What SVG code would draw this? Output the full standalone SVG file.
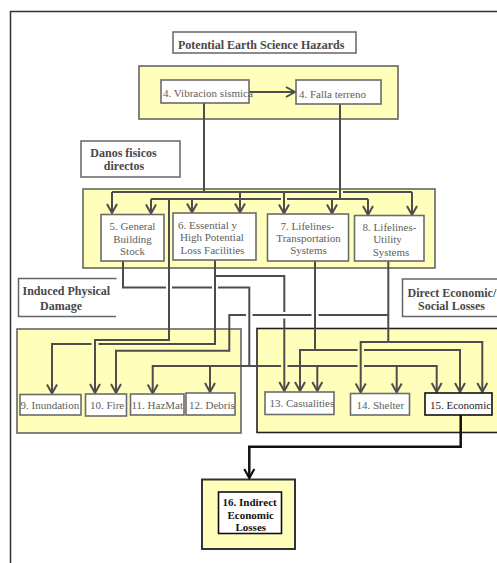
<svg xmlns="http://www.w3.org/2000/svg" width="497" height="563" viewBox="0 0 497 563">
<defs>
<style>
.box{fill:#fff;stroke:#6b6b6b;stroke-width:1.6}
.kbox{fill:#fff;stroke:#111;stroke-width:1.6}
.ybox{fill:#ffffbb;stroke:#666;stroke-width:1.6}
.lbl{fill:#fff;stroke:#666;stroke-width:1.5}
.t{font-family:"Liberation Serif",serif;font-size:11px;fill:#5e5e5e}
.tc{font-family:"Liberation Serif",serif;font-size:11px;fill:#5e5e5e;text-anchor:middle}
.b{font-family:"Liberation Serif",serif;font-size:12px;font-weight:bold;fill:#484848}
.bc{font-family:"Liberation Serif",serif;font-size:12px;font-weight:bold;fill:#484848;text-anchor:middle}
.c{fill:none;stroke:#4d4d4d;stroke-width:2}
.ca{fill:none;stroke:#4d4d4d;stroke-width:2;marker-end:url(#ah)}
.k{fill:none;stroke:#111;stroke-width:2.5;marker-end:url(#ahk)}
</style>
<marker id="ah" viewBox="-11 -7 13 14" refX="0" refY="0" markerWidth="13" markerHeight="14" markerUnits="userSpaceOnUse" orient="auto">
<path d="M-9,-5 L0,0 L-9,5" fill="none" stroke="#4d4d4d" stroke-width="2"/>
</marker>
<marker id="ahk" viewBox="-11 -7 13 14" refX="0" refY="0" markerWidth="13" markerHeight="14" markerUnits="userSpaceOnUse" orient="auto">
<path d="M-9,-5 L0,0 L-9,5" fill="none" stroke="#111" stroke-width="2.2"/>
</marker>
</defs>
<rect width="497" height="563" fill="#fff"/>
<rect x="10.5" y="11.5" width="495" height="560" fill="none" stroke="#333" stroke-width="1.5"/>

<g id="title">
<rect class="lbl" x="173" y="32" width="183" height="21"/>
<text class="b" x="178" y="48.5">Potential Earth Science Hazards</text>
</g>

<g id="hazards-group"><rect class="ybox" x="139" y="66" width="259" height="53"/></g>
<g id="direct-group"><rect class="ybox" x="83" y="189" width="352" height="79"/></g>
<g id="induced-group"><rect class="ybox" x="17" y="329" width="224" height="104"/></g>
<g id="losses-group"><rect class="ybox" x="257" y="328.5" width="250" height="104" style="stroke:#222"/></g>
<g id="indirect-group"><rect class="ybox" x="202" y="479.5" width="93" height="69.5" style="stroke:#333;stroke-width:2"/></g>

<g id="label-danos">
<rect class="lbl" x="81" y="141" width="99" height="36"/>
<text class="bc" x="123.5" y="156.5">Danos fisicos</text>
<text class="bc" x="124" y="169.5">directos</text>
</g>
<g id="label-induced">
<path d="M116.5,278.5 H18.5 V316.5 H116" fill="none" stroke="#666" stroke-width="1.5"/>
<text class="b" x="22.5" y="295">Induced Physical</text>
<text class="bc" x="61" y="310">Damage</text>
</g>
<g id="label-direct">
<rect class="lbl" x="402.5" y="279" width="100" height="37.5"/>
<text class="b" x="407.5" y="297">Direct Economic/</text>
<text class="b" x="418" y="309.5">Social Losses</text>
</g>

<g id="connectors">
<path class="ca" d="M249,92 H295"/>
<path class="c" d="M204,103 V192"/>
<path class="c" d="M337,192 H112"/>
<path class="ca" d="M112,192 V213"/>
<path class="c" d="M343,192 H412"/>
<path class="ca" d="M412,192 V215"/>
<path class="ca" d="M240,192 V212.5"/>
<path class="ca" d="M284,192 V213.5"/>
<path class="c" d="M340,104 V199"/>
<path class="c" d="M281,199 H151"/>
<path class="ca" d="M151,199 V213.5"/>
<path class="ca" d="M192,199 V212.5"/>
<path class="c" d="M287,199 H368"/>
<path class="ca" d="M368,199 V215"/>
<path class="ca" d="M332,199 V213.5"/>
<path class="ca" d="M169,199 V340 H95 V393"/>

<path class="c" d="M123,261 V287.5 H166"/>
<path class="c" d="M172,287.5 H212"/>
<path class="c" d="M218,287.5 H249.3 V366 H281"/>
<path class="c" d="M287.5,366 H357.5"/>
<path class="ca" d="M364,366 H436.7 V392"/>
<path class="ca" d="M249.3,366 H152.7 V393.5"/>
<path class="ca" d="M210,366 V392"/>
<path class="ca" d="M317.3,366 V391"/>
<path class="ca" d="M396.7,366 V392.5"/>

<path class="c" d="M215,260 V344 H98.5"/>
<path class="ca" d="M91.5,344 H52 V393.5"/>
<path class="c" d="M215,276 H284.3 V312"/>
<path class="ca" d="M284.3,318.5 V391"/>

<path class="c" d="M315,261 V350"/>
<path class="ca" d="M357.5,350 H300 V391"/>
<path class="ca" d="M364,350 H460 V392"/>

<path class="c" d="M388.3,261 V342"/>
<path class="ca" d="M388.3,342 H360.7 V392.5"/>
<path class="ca" d="M388.3,342 H482.3 V392"/>
<path class="c" d="M388.3,315 H318.5"/>
<path class="c" d="M311.5,315 H252.5"/>
<path class="ca" d="M246,315 H229.3 V350.7 H116 V393"/>

<path class="k" d="M460.7,415 V446.7 H249.3 V478"/>
</g>

<g id="n4a"><rect class="box" x="161" y="80" width="88" height="23"/><text class="t" x="163" y="97">4. Vibracion sismica</text></g>
<g id="n4b"><rect class="box" x="296" y="80" width="85" height="24"/><text class="t" x="299" y="97.5">4. Falla terreno</text></g>

<g id="n5"><rect class="box" x="101" y="214.5" width="63" height="46.5"/>
<text class="tc" x="132.5" y="230">5. General</text><text class="tc" x="132.5" y="242.5">Building</text><text class="tc" x="132.5" y="254.5">Stock</text></g>
<g id="n6"><rect class="box" x="173" y="213" width="83" height="47"/>
<text class="t" x="178" y="229">6. Essential y</text><text class="t" x="180" y="241">High Potential</text><text class="t" x="180.5" y="253.5">Loss Facilities</text></g>
<g id="n7"><rect class="box" x="267.5" y="214" width="81" height="47"/>
<text class="tc" x="307.5" y="229.5">7.  Lifelines-</text><text class="tc" x="308.5" y="241.5">Transportation</text><text class="tc" x="308.5" y="254">Systems</text></g>
<g id="n8"><rect class="box" x="354.5" y="215.5" width="69.5" height="45.5"/>
<text class="tc" x="389.5" y="230.5">8.  Lifelines-</text><text class="tc" x="387.5" y="243">Utility</text><text class="tc" x="391" y="255.5">Systems</text></g>

<g id="n9"><rect class="box" x="20" y="394.5" width="61" height="20.5"/><text class="t" x="20.5" y="409">9. Inundation</text></g>
<g id="n10"><rect class="box" x="85.5" y="394" width="41" height="22"/><text class="t" x="90" y="409">10. Fire</text></g>
<g id="n11"><rect class="box" x="130.5" y="394" width="53.5" height="21"/><text class="t" x="131.5" y="409">11. HazMat</text></g>
<g id="n12"><rect class="box" x="186" y="393" width="49" height="22"/><text class="t" x="189" y="409">12. Debris</text></g>
<g id="n13"><rect class="box" x="265" y="392" width="69" height="22.5"/><text class="t" x="269.5" y="406.5">13. Casualities</text></g>
<g id="n14"><rect class="box" x="350.5" y="393.5" width="59" height="21.5"/><text class="t" x="356.5" y="409">14. Shelter</text></g>
<g id="n15"><rect class="kbox" x="425" y="393" width="67" height="22"/><text class="t" x="430" y="409" style="fill:#222">15. Economic</text></g>

<g id="n16"><rect class="kbox" x="218.5" y="492" width="63" height="41.5"/>
<text class="b" x="222.5" y="506" style="font-size:11px;fill:#111">16. Indirect</text>
<text class="b" x="227.5" y="518.5" style="font-size:11px;fill:#111">Economic</text>
<text class="b" x="235.5" y="530.5" style="font-size:11px;fill:#111">Losses</text></g>
</svg>
